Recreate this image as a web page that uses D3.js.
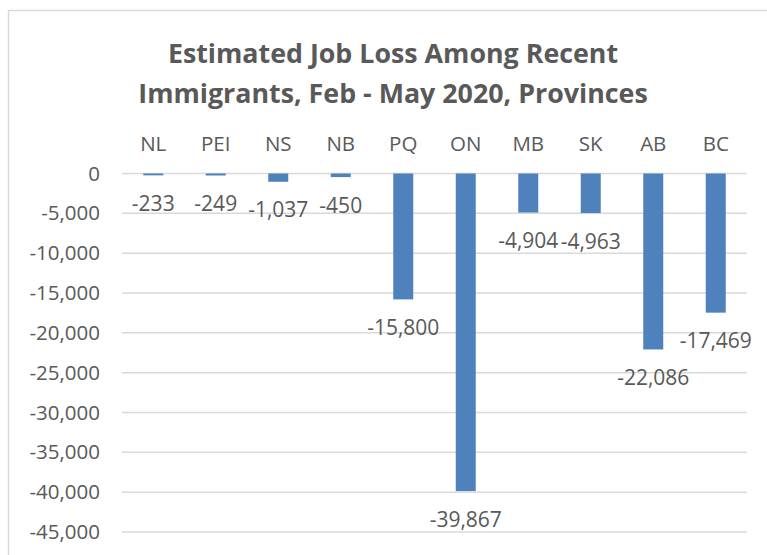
<!DOCTYPE html>
<html>
<head>
<meta charset="utf-8">
<script src="https://cdn.jsdelivr.net/npm/d3@7"></script>
<style>
  body { margin: 0; background: #fff; }
  text { font-family: "Open Sans", sans-serif; fill: #595959; }
</style>
</head>
<body>
<div id="chart"></div>
<script>
// data
var provinces = ["NL", "PEI", "NS", "NB", "PQ", "ON", "MB", "SK", "AB", "BC"];
var jobLoss = [-233, -249, -1037, -450, -15800, -39867, -4904, -4963, -22086, -17469];
var yTicks = [0, -5000, -10000, -15000, -20000, -25000, -30000, -35000, -40000, -45000];
var titleLines = ["Estimated Job Loss Among Recent", "Immigrants, Feb - May 2020, Provinces"];

function init() {
  var w = 767;
  var h = 555;
  var left = 122;
  var right = 747;
  var top = 173.5;
  var bottom = 532;

  // plain hyphen for negative numbers, like the original
  var fmt = d3.formatLocale({
    decimal: ".",
    thousands: ",",
    grouping: [3],
    currency: ["$", ""],
    minus: "-"
  }).format(",");

  var svg = d3
    .select("#chart")
    .append("svg")
    .attr("width", w)
    .attr("height", h);

  // chart area border
  svg
    .append("rect")
    .attr("x", 8.5)
    .attr("y", 10.5)
    .attr("width", 800)
    .attr("height", 600)
    .attr("fill", "#fff")
    .attr("stroke", "#d9d9d9")
    .attr("stroke-width", 1.5);

  var dataset = provinces.map((p, i) => ({ name: p, value: jobLoss[i] }));

  var x = d3.scaleBand().domain(provinces).range([left, right]).padding(0);

  var y = d3.scaleLinear().domain([0, -45000]).range([top, bottom]);

  // gridlines
  svg
    .append("g")
    .selectAll("line")
    .data(yTicks)
    .enter()
    .append("line")
    .attr("x1", left)
    .attr("x2", right)
    .attr("y1", (d) => y(d))
    .attr("y2", (d) => y(d))
    .attr("stroke", "#d9d9d9")
    .attr("stroke-width", 1.5);

  // y axis labels
  var yAxis = d3
    .axisLeft(y)
    .tickValues(yTicks)
    .tickFormat(fmt)
    .tickSize(0)
    .tickPadding(0);

  var gy = svg
    .append("g")
    .attr("transform", "translate(100,0)")
    .call(yAxis);
  gy.select(".domain").remove();
  gy.selectAll("text")
    .attr("font-size", "20.5px")
    .attr("font-family", null)
    .attr("fill", "#595959");

  // category labels on top
  var xAxis = d3.axisTop(x).tickSize(0).tickPadding(0);
  var gx = svg
    .append("g")
    .attr("transform", "translate(0,151)")
    .call(xAxis);
  gx.select(".domain").remove();
  gx.selectAll("text")
    .attr("dy", 0)
    .attr("font-size", "20.5px")
    .attr("font-family", null)
    .attr("fill", "#595959");

  var barW = x.bandwidth() * 0.32;

  // bars
  svg
    .selectAll(".bar")
    .data(dataset)
    .enter()
    .append("rect")
    .attr("class", "bar")
    .attr("x", (d) => x(d.name) + x.bandwidth() / 2 - barW / 2)
    .attr("y", y(0))
    .attr("width", barW)
    .attr("height", (d) => y(d.value) - y(0))
    .attr("fill", "#4f81bd");

  // data labels
  svg
    .selectAll(".label")
    .data(dataset)
    .enter()
    .append("text")
    .attr("class", "label")
    .attr("x", (d) => x(d.name) + x.bandwidth() / 2)
    .attr("y", (d) => y(d.value) + 28)
    .attr("dy", "0.36em")
    .attr("text-anchor", "middle")
    .attr("font-size", "21px")
    .text((d) => fmt(d.value));

  // title
  svg
    .append("g")
    .selectAll("text")
    .data(titleLines)
    .enter()
    .append("text")
    .attr("x", 393)
    .attr("y", (d, i) => 63 + i * 40)
    .attr("text-anchor", "middle")
    .attr("font-size", "26.8px")
    .attr("font-weight", "bold")
    .text((d) => d);
}

window.onload = init;
</script>
</body>
</html>
